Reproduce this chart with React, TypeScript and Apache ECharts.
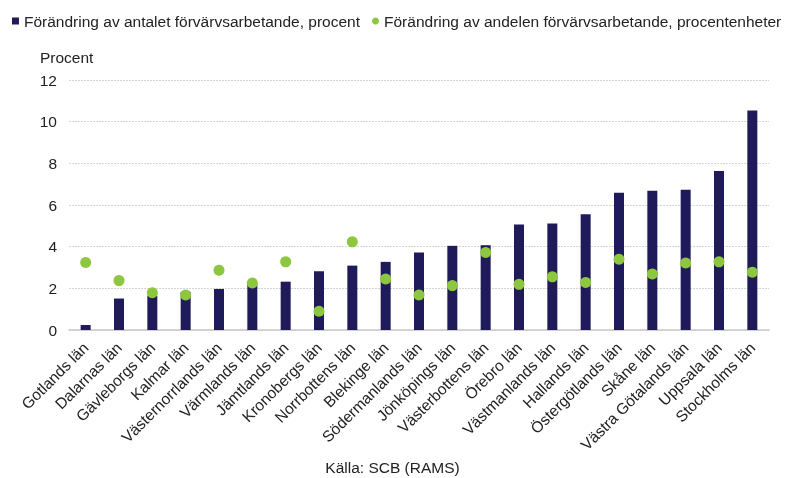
import React, { useEffect, useRef } from "react";
import * as echarts from "echarts";

const categories = [
  "Gotlands län", "Dalarnas län", "Gävleborgs län", "Kalmar län", "Västernorrlands län",
  "Värmlands län", "Jämtlands län", "Kronobergs län", "Norrbottens län", "Blekinge län",
  "Södermanlands län", "Jönköpings län", "Västerbottens län", "Örebro län", "Västmanlands län",
  "Hallands län", "Östergötlands län", "Skåne län", "Västra Götalands län", "Uppsala län",
  "Stockholms län",
];
const antalValues = [0.24, 1.51, 1.65, 1.83, 1.97, 2.2, 2.32, 2.82, 3.09, 3.27, 3.72, 4.04, 4.07, 5.06, 5.11, 5.56, 6.59, 6.68, 6.73, 7.63, 10.54];
const andelValues = [3.24, 2.37, 1.79, 1.68, 2.87, 2.26, 3.27, 0.9, 4.23, 2.45, 1.68, 2.13, 3.72, 2.19, 2.55, 2.28, 3.4, 2.69, 3.22, 3.27, 2.77];
const yTicks = { min: 0, max: 12, interval: 2 };

const seriesNames = [
  "Förändring av antalet förvärvsarbetande, procent",
  "Förändring av andelen förvärvsarbetande, procentenheter",
];

const FONT = "Liberation Sans, Arial, sans-serif";
const FS = 15.5;

export default function App() {
  const ref = useRef<HTMLDivElement>(null);
  useEffect(() => {
    if (!ref.current) return;
    const chart = echarts.init(ref.current, null, { renderer: "svg" });
    chart.setOption({
      animation: false,
      textStyle: { fontFamily: FONT },
      legend: {
        top: 13,
        left: 12,
        width: 900,
        padding: 0,
        itemGap: 12,
        itemWidth: 7,
        itemHeight: 7,
        textStyle: { fontSize: FS, color: "#222", fontFamily: FONT },
        data: [
          { name: seriesNames[0], icon: "rect" },
          { name: seriesNames[1], icon: "circle" },
        ],
      },
      graphic: [
        { type: "text", left: 40, top: 49, style: { text: "Procent", fontSize: FS, fill: "#222", fontFamily: FONT } },
        { type: "text", left: "center", top: 459, style: { text: "Källa: SCB (RAMS)", fontSize: FS, fill: "#222", fontFamily: FONT } },
      ],
      grid: { left: 69, right: 16, top: 80, bottom: 148, containLabel: false },
      xAxis: {
        type: "category",
        data: categories,
        axisLine: { lineStyle: { color: "#c8c8c8", width: 1.5 } },
        axisTick: { show: false },
        axisLabel: { rotate: 45, fontSize: FS, color: "#222", fontFamily: FONT, margin: 15, interval: 0 },
      },
      yAxis: {
        type: "value",
        min: yTicks.min,
        max: yTicks.max,
        interval: yTicks.interval,
        axisLine: { show: false },
        axisTick: { show: false },
        axisLabel: { fontSize: FS, color: "#222", fontFamily: FONT, margin: 12 },
        splitLine: { lineStyle: { color: "#d4d4d4", width: 1.2, type: [2, 1] } },
      },
      series: [
        {
          name: seriesNames[0],
          type: "bar",
          data: antalValues,
          barWidth: 10,
          itemStyle: { color: "#1f1a5a" },
        },
        {
          name: seriesNames[1],
          type: "scatter",
          data: andelValues,
          symbol: "circle",
          symbolSize: 11,
          itemStyle: { color: "#8dc63f", opacity: 1 },
          z: 5,
        },
      ],
    });
    return () => chart.dispose();
  }, []);
  return <div ref={ref} style={{ width: 785, height: 478, position: "fixed", left: 0, top: 0 }} />;
}
